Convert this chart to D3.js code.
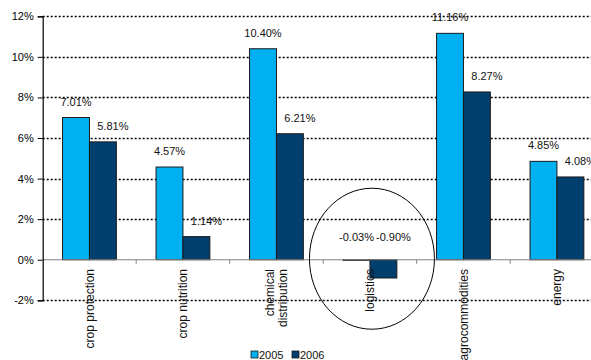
<!DOCTYPE html>
<html>
<head>
<meta charset="utf-8">
<script src="https://cdn.jsdelivr.net/npm/d3@7"></script>
<style>
  html, body { margin: 0; padding: 0; background: #fff; }
  svg { display: block; font-family: "Liberation Sans", Arial, sans-serif; }
</style>
</head>
<body>
<svg id="chart" width="591" height="360"></svg>
<script>
const categories = ["crop protection", "crop nutrition", "chemical\ndistribution", "logistics", "agrocommodities", "energy"];
const seriesNames = ["2005", "2006"];
const values2005 = [7.01, 4.57, 10.40, -0.03, 11.16, 4.85];
const values2006 = [5.81, 1.14, 6.21, -0.90, 8.27, 4.08];
const yTicks = [-2, 0, 2, 4, 6, 8, 10, 12];
const highlighted = "logistics";
const colors = ["#00B0F0", "#003F6E"];

const svg = d3.select("#chart");
const W = 591, H = 360;
svg.append("rect").attr("width", W).attr("height", H).attr("fill", "#fff");

const left = 42.7, right = 603.7;
const y = d3.scaleLinear().domain([-2, 12]).range([300.3, 16.3]);
const x0 = d3.scaleBand().domain(categories).range([left, right]).padding(0);
const x1 = d3.scaleBand().domain(seriesNames).range([0, x0.bandwidth()]).paddingInner(0).paddingOuter(0.738);
const color = d3.scaleOrdinal().domain(seriesNames).range(colors);

const seriesValues = [values2005, values2006];
const data = categories.map((c, i) => ({
  cat: c,
  vals: seriesNames.map((s, j) => ({ cat: c, series: s, value: seriesValues[j][i] }))
}));

// gridlines (dotted)
const grid = svg.append("g");
grid.selectAll("line").data(yTicks.filter(t => t !== 0)).join("line")
  .attr("x1", left).attr("x2", W)
  .attr("y1", d => Math.round(y(d)) + 0.5).attr("y2", d => Math.round(y(d)) + 0.5)
  .attr("stroke", "#000").attr("stroke-width", 1.6).attr("stroke-dasharray", "2,2");

// bars
const groups = svg.append("g").selectAll("g").data(data).join("g")
  .attr("transform", d => `translate(${x0(d.cat)},0)`);
groups.selectAll("rect").data(d => d.vals).join("rect")
  .attr("x", d => x1(d.series))
  .attr("width", x1.bandwidth())
  .attr("y", d => y(Math.max(0, d.value)))
  .attr("height", d => Math.abs(y(d.value) - y(0)))
  .attr("fill", d => color(d.series))
  .attr("stroke", "#1a1a1a").attr("stroke-width", 1);

// zero line
svg.append("line").attr("x1", left).attr("x2", W)
  .attr("y1", y(0)).attr("y2", y(0))
  .attr("stroke", "#808080").attr("stroke-width", 1.2);

// category ticks on zero line
svg.append("g").selectAll("line").data(categories).join("line")
  .attr("x1", d => x0(d) + x0.step())
  .attr("x2", d => x0(d) + x0.step())
  .attr("y1", y(0)).attr("y2", y(0) + 4)
  .attr("stroke", "#808080").attr("stroke-width", 1);

// y axis
const yAxis = d3.axisLeft(y).tickValues(yTicks).tickSize(5).tickPadding(4)
  .tickFormat(d => d + "%");
const ya = svg.append("g").attr("transform", `translate(${left},0)`).call(yAxis);
ya.select(".domain").attr("stroke", "#000").attr("stroke-width", 1.2);
ya.selectAll(".tick line").attr("stroke", "#000");
ya.selectAll(".tick text").attr("font-size", 11).attr("fill", "#000")
  .attr("font-family", "Liberation Sans, Arial, sans-serif");

// value labels
const fmt = v => d3.format(".2f")(v).replace("\u2212", "-") + "%";
groups.selectAll("text.val").data(d => d.vals).join("text")
  .attr("class", "val")
  .attr("x", d => x1(d.series) + x1.bandwidth() / 2 + (d.series === "2006" ? 10 : 0))
  .attr("y", d => d.value >= 0 ? y(d.value) - 12 : y(0) - 19)
  .attr("text-anchor", "middle")
  .attr("font-size", 11).attr("fill", "#111")
  .text(d => fmt(d.value));

// category labels (rotated)
svg.append("g").selectAll("text").data(categories).join("text")
  .attr("transform", d => `translate(${x0(d) + x0.bandwidth() / 2},269) rotate(-90)`)
  .attr("text-anchor", "end")
  .attr("font-size", 12).attr("fill", "#111")
  .each(function(d) {
    const lines = d.split("\n");
    const t = d3.select(this);
    lines.forEach((ln, k) => {
      const off = (k - (lines.length - 1) / 2) * 13.5;
      t.append("tspan").attr("x", 0).attr("y", off).attr("dy", "0.35em").text(ln);
    });
  });

// highlight ellipse
svg.append("ellipse")
  .attr("cx", x0(highlighted) + x0.bandwidth() / 2 + 2)
  .attr("cy", y(0) - 1)
  .attr("rx", 62.5).attr("ry", 70.5)
  .attr("fill", "none").attr("stroke", "#000").attr("stroke-width", 1);

// legend
const legend = svg.append("g").attr("transform", "translate(251,348)");
let lx = 0;
seriesNames.forEach((s, i) => {
  legend.append("rect").attr("x", lx).attr("y", 3).attr("width", 7).attr("height", 7)
    .attr("fill", color(s)).attr("stroke", "#1a1a1a").attr("stroke-width", 0.8);
  legend.append("text").attr("x", lx + 8).attr("y", 11).attr("font-size", 11)
    .attr("fill", "#111").text(s);
  lx += 41;
});
</script>
</body>
</html>
